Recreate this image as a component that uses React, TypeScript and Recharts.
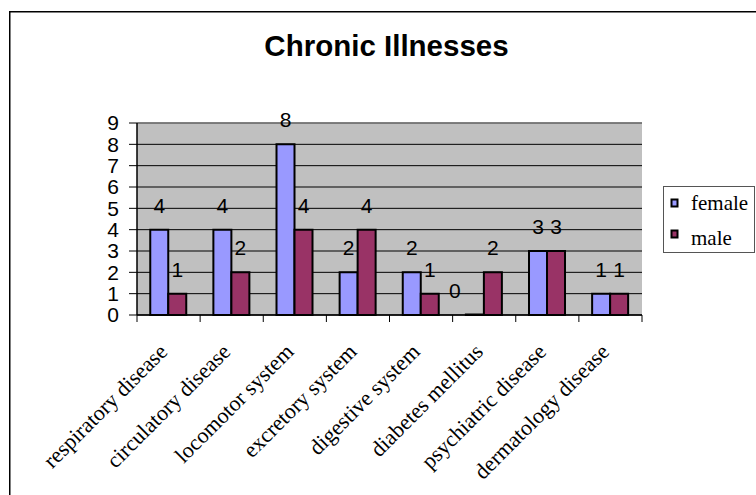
import React from 'react';
import {
  BarChart,
  Bar,
  XAxis,
  YAxis,
  CartesianGrid,
  Legend,
  LabelList,
  ReferenceLine,
} from 'recharts';

// Chronic illnesses by sex
const categories = [
  'respiratory disease',
  'circulatory disease',
  'locomotor system',
  'excretory system',
  'digestive system',
  'diabetes mellitus',
  'psychiatric disease',
  'dermatology disease',
];
const female = [4, 4, 8, 2, 2, 0, 3, 1];
const male = [1, 2, 4, 4, 1, 2, 3, 1];
const yTicks = [0, 1, 2, 3, 4, 5, 6, 7, 8, 9];

const data = categories.map((name, i) => ({ name, female: female[i], male: male[i] }));

const W = 756;
const H = 495;
const MARGIN = { top: 123, right: 114, left: 0, bottom: 0 };
const Y_AXIS_WIDTH = 137;
const X_AXIS_HEIGHT = 180;
const PLOT_WIDTH = W - MARGIN.right - Y_AXIS_WIDTH;
const BAND = PLOT_WIDTH / categories.length;

const SANS = '"Liberation Sans", Arial, sans-serif';
const SERIF = '"Liberation Serif", "Times New Roman", serif';

// zero values still need a bar entry so that their label is printed
const keepZero = (v: any) => (v === 0 ? 0.5 : 0);

// Category tick: boundary tick marks plus a label rotated 45 degrees
const CategoryTick = (props: any) => {
  const { x, y, payload, index } = props;
  const left = x - BAND / 2;
  const right = x + BAND / 2;
  const last = index === categories.length - 1;
  const ly = y + 38;
  return (
    <g>
      <line x1={left} y1={y} x2={left} y2={y + 7} stroke="#000" strokeWidth={1} />
      {last && <line x1={right} y1={y} x2={right} y2={y + 7} stroke="#000" strokeWidth={1} />}
      <text
        x={x}
        y={ly}
        textAnchor="end"
        transform={`rotate(-45 ${x} ${ly})`}
        fontFamily={SERIF}
        fontSize={22}
        fill="#000"
      >
        {payload.value}
      </text>
    </g>
  );
};

// Value printed above each bar; a zero sits a little to the left
const ValueLabel = (props: any) => {
  const { x, y, width, value } = props;
  const cx = Number(x) + Number(width) / 2 - (value === 0 ? 20 : 0);
  return (
    <text
      x={cx}
      y={Number(y) - 17}
      textAnchor="middle"
      fontFamily={SANS}
      fontSize={21}
      fill="#000"
    >
      {value}
    </text>
  );
};

const LegendBox = (props: any) => {
  const items = props.payload || [];
  return (
    <svg width={92} height={67} style={{ display: 'block' }}>
      <rect x={0.5} y={0.5} width={91} height={66} fill="#fff" stroke="#555" strokeWidth={1} />
      {items.map((entry: any, i: number) => (
        <g key={entry.value}>
          <rect x={8.5} y={13.5 + i * 31} width={6} height={7} fill={entry.color} stroke="#000" strokeWidth={2} />
          <text x={28} y={23.5 + i * 35.5} fontFamily={SERIF} fontSize={21} fill="#000">
            {entry.value}
          </text>
        </g>
      ))}
    </svg>
  );
};

export default function App() {
  return (
    <div
      style={{
        position: 'fixed',
        left: 0,
        top: 0,
        width: W,
        height: H,
        overflow: 'hidden',
        background: '#fff',
      }}
    >
      <BarChart
        width={W}
        height={H}
        data={data}
        margin={MARGIN}
        barCategoryGap="21%"
        barGap={0}
      >
        <CartesianGrid vertical={false} stroke="#000" fill="#C0C0C0" fillOpacity={1} />
        <ReferenceLine y={9} stroke="#808080" strokeWidth={1.5} />
        <XAxis
          dataKey="name"
          interval={0}
          height={X_AXIS_HEIGHT}
          tickSize={0}
          tickMargin={0}
          tickLine={false}
          axisLine={{ stroke: '#000', strokeWidth: 1.5 }}
          tick={<CategoryTick />}
        />
        <YAxis
          domain={[0, 9]}
          ticks={yTicks}
          interval={0}
          width={Y_AXIS_WIDTH}
          tickSize={8}
          tickMargin={10}
          axisLine={{ stroke: '#000', strokeWidth: 1.5 }}
          tickLine={{ stroke: '#000' }}
          tick={{ fill: '#000', fontSize: 21, fontFamily: SANS }}
        />
        <YAxis
          yAxisId="frame"
          orientation="right"
          domain={[0, 9]}
          width={0}
          tick={false}
          tickLine={false}
          axisLine={{ stroke: '#808080', strokeWidth: 1.5 }}
        />
        <Legend
          layout="vertical"
          align="center"
          verticalAlign="middle"
          wrapperStyle={{ left: 663, top: 186, width: 92, height: 67 }}
          content={<LegendBox />}
        />
        <Bar
          dataKey="female"
          name="female"
          fill="#9999FF"
          stroke="#000"
          strokeWidth={2}
          minPointSize={keepZero}
          isAnimationActive={false}
        >
          <LabelList dataKey="female" content={<ValueLabel />} />
        </Bar>
        <Bar
          dataKey="male"
          name="male"
          fill="#993366"
          stroke="#000"
          strokeWidth={2}
          minPointSize={keepZero}
          isAnimationActive={false}
        >
          <LabelList dataKey="male" content={<ValueLabel />} />
        </Bar>
      </BarChart>
      <svg
        width={W}
        height={H}
        style={{ position: 'absolute', left: 0, top: 0, pointerEvents: 'none' }}
      >
        <rect x={9.75} y={11.75} width={800} height={600} fill="none" stroke="#000" strokeWidth={1.5} />
        <text
          x={386.5}
          y={56}
          textAnchor="middle"
          fontFamily={SANS}
          fontWeight="bold"
          fontSize={29.5}
          fill="#000"
        >
          Chronic Illnesses
        </text>
      </svg>
    </div>
  );
}
